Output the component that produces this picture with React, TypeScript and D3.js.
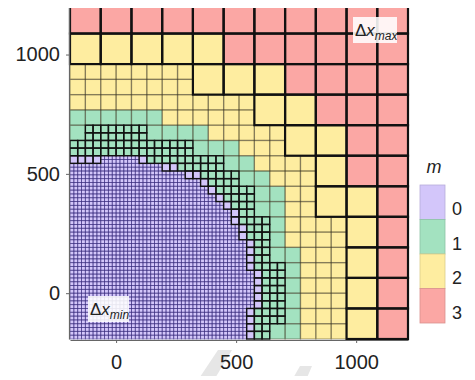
import { useEffect, useRef } from "react";
import * as d3 from "d3";

// mesh runs from -192 to 1216 on both axes, 11 coarse cells of dx_max = 128
const EDGE = -192;
const DX_MAX = 128;
const N = 11;

const levels = [0, 1, 2, 3];
const levelColors = ["#D3C6FA", "#A3E2C0", "#FEEDA0", "#FBA7A4"];
const tickValues = [0, 500, 1000];

// per 128-row (bottom -> top): coarse cells from the left with m <= 2
const yellowEnd = [10, 10, 10, 10, 10, 9, 9, 8, 7, 5, 0];
// per 128-row: coarse cells from the left split into 64 cells
const split64End = [9, 9, 9, 9, 8, 8, 7, 6, 4, 0, 0];
// per 64-row: 64 cells from the left with m <= 1
const greenEnd = [15, 15, 15, 15, 15, 15, 14, 14, 14, 14, 13, 12, 11, 9, 6];
// per 64-row: [from, to) of 64 cells split into 32 cells
const split32 = [
  [0, 13], [0, 14], [0, 14], [0, 14], [0, 14], [0, 13], [0, 13],
  [0, 13], [0, 12], [0, 12], [0, 11], [0, 10], [0, 8], [1, 5],
];
// per 32-row: [from, to) of 32 cells split into 16 cells (m = 0)
const split16 = [
  [0, 23], [0, 23], [0, 23], [0, 23], [0, 24], [0, 24], [0, 24], [0, 24],
  [0, 24], [0, 23], [0, 23], [0, 23], [0, 23], [0, 22], [0, 22], [0, 21],
  [0, 21], [0, 20], [0, 19], [0, 18], [0, 17], [0, 15], [0, 12], [4, 9],
];
// 32 cells that are still m = 0: [row, from, to)
const purple32 = [
  [0, 23, 24], [1, 23, 24], [2, 23, 24], [3, 23, 24], [4, 24, 25],
  [5, 24, 25], [6, 24, 25], [7, 24, 25], [8, 24, 25], [9, 23, 24],
  [10, 23, 24], [11, 23, 24], [12, 23, 24], [13, 22, 23], [14, 22, 23],
  [15, 21, 22], [16, 21, 22], [17, 20, 21], [18, 19, 20], [19, 18, 19],
  [20, 17, 18], [21, 15, 17], [22, 12, 14], [23, 0, 4], [23, 9, 10],
];

type Cell = { x: number; y: number; size: number; m: number; thick: boolean };

const inSpan = (sp: number[] | undefined, k: number) =>
  !!sp && k >= sp[0] && k < sp[1];

function buildCells(): Cell[] {
  const cells: Cell[] = [];
  for (let j = 0; j < N; j++) {
    for (let i = 0; i < N; i++) {
      if (i >= split64End[j]) {
        cells.push({
          x: EDGE + i * 128, y: EDGE + j * 128, size: 128,
          m: i < yellowEnd[j] ? 2 : 3, thick: true,
        });
        continue;
      }
      for (let dj = 0; dj < 2; dj++) {
        for (let di = 0; di < 2; di++) {
          const c = 2 * i + di;
          const r = 2 * j + dj;
          if (!inSpan(split32[r], c)) {
            cells.push({
              x: EDGE + c * 64, y: EDGE + r * 64, size: 64,
              m: c < (greenEnd[r] ?? 0) ? 1 : 2, thick: false,
            });
            continue;
          }
          for (let sj = 0; sj < 2; sj++) {
            for (let si = 0; si < 2; si++) {
              const k = 2 * c + si;
              const s = 2 * r + sj;
              if (inSpan(split16[s], k)) {
                for (let q = 0; q < 4; q++) {
                  cells.push({
                    x: EDGE + k * 32 + (q % 2) * 16,
                    y: EDGE + s * 32 + Math.floor(q / 2) * 16,
                    size: 16, m: 0, thick: false,
                  });
                }
              } else {
                const purple = purple32.some((p) => p[0] === s && k >= p[1] && k < p[2]);
                cells.push({
                  x: EDGE + k * 32, y: EDGE + s * 32, size: 32,
                  m: purple ? 0 : 1, thick: true,
                });
              }
            }
          }
        }
      }
    }
  }
  return cells;
}

function MeshChart() {
  const ref = useRef<SVGSVGElement>(null);

  useEffect(() => {
    const el = d3.select(ref.current);
    el.selectAll("*").remove();

    const x = d3.scaleLinear().domain([EDGE, EDGE + N * DX_MAX]).range([70, 408]);
    const y = d3.scaleLinear().domain([EDGE, EDGE + N * DX_MAX]).range([339, 3]);
    const color = d3.scaleOrdinal<number, string>().domain(levels).range(levelColors);
    const font = "'Liberation Sans', Arial, sans-serif";

    const cells = buildCells();

    // faint grey marks under the axis (from the source figure)
    el.append("polygon").attr("points", "218,350 232,350 214,380 198,380").attr("fill", "#e6e6e6");
    el.append("polygon").attr("points", "300,366 312,366 306,380 292,380").attr("fill", "#e6e6e6");

    const rect = (sel: any) =>
      sel
        .attr("x", (d: Cell) => x(d.x))
        .attr("y", (d: Cell) => y(d.y + d.size))
        .attr("width", (d: Cell) => x(d.x + d.size) - x(d.x))
        .attr("height", (d: Cell) => y(d.y) - y(d.y + d.size));

    // cell fills
    el.append("g")
      .selectAll("rect")
      .data(cells)
      .join("rect")
      .call(rect)
      .attr("fill", (d) => color(d.m));

    // thin grid lines (64 and 16 cells)
    el.append("g")
      .selectAll("rect")
      .data(cells.filter((d) => !d.thick))
      .join("rect")
      .call(rect)
      .attr("fill", "none")
      .attr("stroke", (d) => (d.size === 16 ? "#3a2d80" : "#3a3520"))
      .attr("stroke-opacity", (d) => (d.size === 16 ? 0.6 : 0.38))
      .attr("stroke-width", (d) => (d.size === 16 ? 0.9 : 1.3));

    // thick grid lines (128 and 32 cells)
    el.append("g")
      .selectAll("rect")
      .data(cells.filter((d) => d.thick))
      .join("rect")
      .call(rect)
      .attr("fill", "none")
      .attr("stroke", "#111")
      .attr("stroke-width", (d) => (d.size === 128 ? 2.2 : 1.4));

    // axes
    const fmt = d3.format("d");
    const left = el.append("g")
      .attr("transform", "translate(69, 0)")
      .call(d3.axisLeft(y).tickValues(tickValues).tickFormat(fmt as any)
        .tickSize(3).tickSizeOuter(0).tickPadding(6));
    const bottom = el.append("g")
      .attr("transform", "translate(0, 340)")
      .call(d3.axisBottom(x).tickValues(tickValues).tickFormat(fmt as any)
        .tickSize(3).tickSizeOuter(0).tickPadding(12));
    for (const a of [left, bottom]) {
      a.select(".domain").attr("stroke", "#666").attr("stroke-width", 1.2);
      a.selectAll(".tick line").attr("stroke", "#666");
      a.selectAll(".tick text")
        .attr("font-size", 20)
        .attr("font-family", font)
        .attr("fill", "#222");
    }

    // delta x labels
    const label = (bx: number, by: number, sub: string) => {
      el.append("rect")
        .attr("x", bx).attr("y", by).attr("width", sub === "max" ? 44 : 41).attr("height", 26)
        .attr("fill", "#fff").attr("fill-opacity", 0.88);
      const t = el.append("text")
        .attr("x", bx + 2).attr("y", by + 19)
        .attr("font-family", font).attr("font-size", 17).attr("fill", "#222");
      t.append("tspan").text("Δ");
      t.append("tspan").attr("font-style", "italic").text("x");
      t.append("tspan").attr("font-style", "italic").attr("font-size", 12).attr("dy", 4).text(sub);
    };
    label(353, 17, "max");
    label(88, 296, "min");

    // legend
    el.append("text")
      .attr("x", 434).attr("y", 173)
      .attr("text-anchor", "middle")
      .attr("font-family", font).attr("font-size", 18).attr("font-style", "italic")
      .attr("fill", "#222")
      .text("m");
    const ly = d3.scaleBand<number>().domain(levels).range([185, 323]);
    const lg = el.append("g");
    lg.selectAll("rect")
      .data(levels)
      .join("rect")
      .attr("x", 420)
      .attr("y", (d) => ly(d)!)
      .attr("width", 25)
      .attr("height", ly.bandwidth())
      .attr("fill", (d) => color(d))
      .attr("stroke", (d) => d3.color(color(d))!.darker(0.4).formatHex())
      .attr("stroke-width", 0.8);
    lg.selectAll("text")
      .data(levels)
      .join("text")
      .attr("x", 452)
      .attr("y", (d) => ly(d)! + ly.bandwidth() / 2 + 8)
      .attr("dominant-baseline", "middle")
      .attr("font-family", font)
      .attr("font-size", 18)
      .attr("fill", "#222")
      .text((d) => d + "");
  }, []);

  return <svg ref={ref} width={475} height={380} />;
}

export default function App() {
  return (
    <div style={{ margin: -8 }}>
      <MeshChart />
    </div>
  );
}
